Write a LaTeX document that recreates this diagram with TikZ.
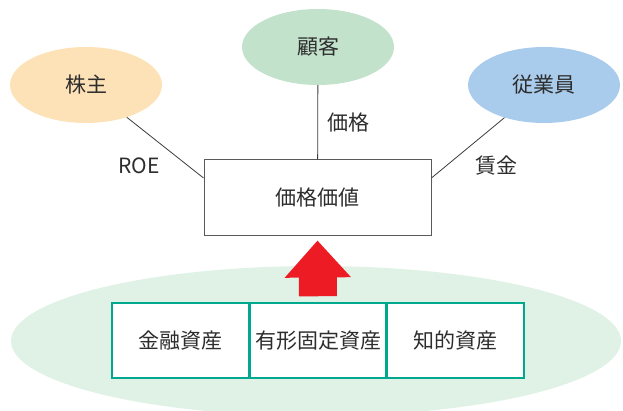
\documentclass[tikz,border=0pt]{standalone}
\usepackage{fontspec}
\setmainfont{Noto Sans CJK JP}
\usepackage{tikz}
\usetikzlibrary{
    shapes.geometric,
    arrows.meta,
    positioning,
    calc
}
\definecolor{holderfill}{RGB}{253,226,183}
\definecolor{clientfill}{RGB}{194,226,204}
\definecolor{stafffill}{RGB}{170,204,236}
\definecolor{groundfill}{RGB}{224,241,230}
\definecolor{assetline}{RGB}{0,168,142}
\definecolor{arrowred}{RGB}{237,28,36}
\definecolor{textgray}{RGB}{45,45,45}
\definecolor{linegray}{RGB}{60,60,60}
\definecolor{boxgray}{RGB}{90,90,90}
\tikzset{
    party/.style={
        ellipse,
        minimum width=152pt,
        minimum height=76pt,
        inner sep=0pt,
        text=textgray,
        font=\fontsize{21}{25}\selectfont
    },
    valuebox/.style={
        rectangle,
        draw=boxgray,
        fill=white,
        minimum width=227pt,
        minimum height=76pt,
        text=textgray,
        font=\fontsize{21}{25}\selectfont,
        line width=1pt
    },
    asset/.style={
        rectangle,
        draw=assetline,
        fill=white,
        minimum width=136.3pt,
        minimum height=75pt,
        inner sep=0pt,
        text=textgray,
        font=\fontsize{21}{25}\selectfont,
        line width=1.5pt
    },
    link/.style={
        draw=linegray,
        line width=0.8pt
    },
    linklabel/.style={
        text=textgray,
        font=\fontsize{21}{25}\selectfont
    },
    bigarrow/.style={
        -{Triangle[width=64pt,length=37pt]},
        draw=arrowred,
        line width=38pt
    }
}

\begin{document}
\begin{tikzpicture}[x=1pt, y=-1pt]
    \useasboundingbox (0,0) rectangle (623,411);

    % Base of assets
    \begin{scope}
        \clip (0,0) rectangle (623,411);
        \node[ellipse, fill=groundfill, minimum width=610pt, minimum height=150pt]
            (ground) at (316,341) {};
    \end{scope}

    % Stakeholders
    \foreach \name/\x/\y/\text/\col in {
        holder/86/85/株主/holderfill,
        client/318/47/顧客/clientfill,
        staff/544/85/従業員/stafffill%
    } {
        \node[party, fill=\col] (\name) at (\x,\y) {\text};
    }

    % Value box
    \node[valuebox] (value) at (317.5,198) {価格価値};

    % Assets
    \node[asset] (financial) at (180.2,340.5) {金融資産};
    \node[asset, right=0pt of financial] (tangible) {有形固定資産};
    \node[asset, right=0pt of tangible] (intangible) {知的資産};

    % Links
    \draw[link] (holder) -- ($(value.north west)!0.24!(value.south west)$);
    \draw[link] (client) -- (value);
    \draw[link] (staff) -- ($(value.north east)!0.24!(value.south east)$);
    \node[linklabel] (roe) at (139,166) {ROE};
    \node[linklabel] (price) at (348,123) {価格};
    \node[linklabel] (wage) at (496,166) {賃金};

    % Assets create value
    \draw[bigarrow] ([yshift=6pt]tangible.north) -- ([yshift=-4pt]value.south);
\end{tikzpicture}
\end{document}
